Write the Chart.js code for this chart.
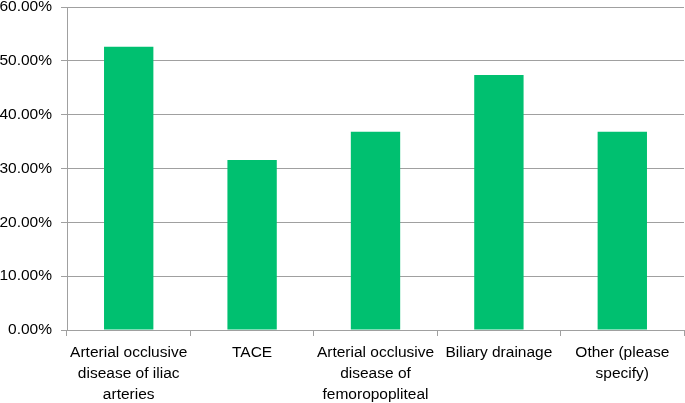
<!DOCTYPE html>
<html>
<head>
<meta charset="utf-8">
<script src="https://cdn.jsdelivr.net/npm/chart.js@4.4.0/dist/chart.umd.min.js"></script>
<style>
  body { margin: 0; background: #fff; }
  #wrap { width: 685px; height: 403px; }
</style>
</head>
<body>
<div id="wrap"><canvas id="barChart"></canvas></div>
<script>
// Procedures (multi-line labels as in the original)
const categories = [
  ["Arterial occlusive", "disease of iliac", "arteries"],
  ["TACE"],
  ["Arterial occlusive", "disease of", "femoropopliteal"],
  ["Biliary drainage"],
  ["Other (please", "specify)"]
]
const percentValues = [52.63, 31.58, 36.84, 47.37, 36.84]
const yTicks = [0, 10, 20, 30, 40, 50, 60]

const gridGrey = "#a0a0a0"
const fontFamily = "'Liberation Sans', 'DejaVu Sans', sans-serif"

const ctx = document.getElementById("barChart").getContext("2d")
new Chart(ctx, {
  type: "bar",
  data: {
    labels: categories,
    datasets: [
      {
        data: percentValues,
        backgroundColor: "#00c070",
        borderWidth: 0,
        barPercentage: 0.4,
        categoryPercentage: 1.0
      }
    ]
  },
  options: {
    responsive: true,
    maintainAspectRatio: false,
    animation: false,
    layout: { padding: { top: 0, right: 1, left: 0, bottom: 0 } },
    plugins: {
      legend: { display: false },
      tooltip: { enabled: false }
    },
    scales: {
      x: {
        afterFit: (axis) => {
          axis.height = 73
        },
        grid: {
          display: true,
          offset: true,
          drawOnChartArea: false,
          drawTicks: true,
          tickLength: 6,
          color: gridGrey
        },
        border: { color: gridGrey },
        ticks: {
          color: "#000",
          padding: 6,
          maxRotation: 0,
          autoSkip: false,
          font: { family: fontFamily, size: 15.5, lineHeight: "21px" }
        }
      },
      y: {
        min: 0,
        max: 60,
        afterBuildTicks: (axis) => {
          axis.ticks = yTicks.map((v) => ({ value: v }))
        },
        afterFit: (axis) => {
          axis.width = 67
          axis.paddingTop = 7
          axis.paddingBottom = 0
        },
        grid: {
          color: gridGrey,
          tickLength: 6
        },
        border: { color: gridGrey },
        ticks: {
          color: "#000",
          padding: 9,
          font: { family: fontFamily, size: 15.5, lineHeight: 1.0 },
          callback: (value) => value.toFixed(2) + "%"
        }
      }
    }
  }
})
</script>
</body>
</html>
